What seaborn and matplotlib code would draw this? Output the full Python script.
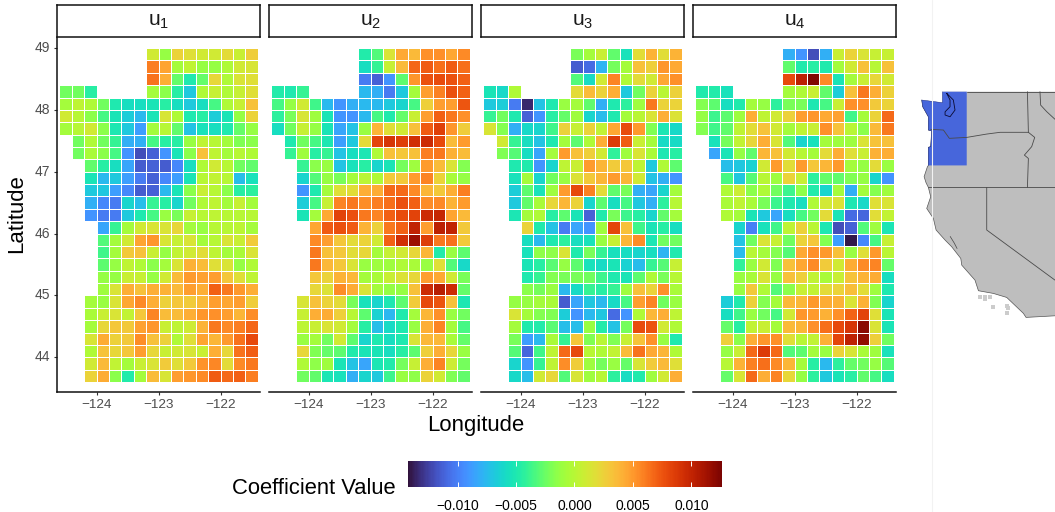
import numpy as np
import pandas as pd
import matplotlib
matplotlib.use("Agg")
import matplotlib.pyplot as plt
from matplotlib.lines import Line2D
import seaborn as sns

sns.set_theme(style="white")
plt.rcParams['font.family'] = ['Liberation Sans', 'DejaVu Sans']
plt.rcParams['mathtext.default'] = 'regular'

n = float('nan')
lons = [-124.5, -124.3, -124.1, -123.9, -123.7, -123.5, -123.3, -123.1,
        -122.9, -122.7, -122.5, -122.3, -122.1, -121.9, -121.7, -121.5]
lats = [48.9, 48.7, 48.5, 48.3, 48.1, 47.9, 47.7, 47.5, 47.3, 47.1, 46.9, 46.7, 46.5, 46.3,
        46.1, 45.9, 45.7, 45.5, 45.3, 45.1, 44.9, 44.7, 44.5, 44.3, 44.1, 43.9, 43.7]
start_col = [7, 7, 7, 0, 0, 0, 0, 1, 1, 2, 2, 2, 2, 2, 3, 3, 3, 3, 3, 3, 2, 2, 2, 2, 2, 2, 2]
panel_names = ['u_1', 'u_2', 'u_3', 'u_4']
lon_ticks = [-124, -123, -122]
lat_ticks = [49, 48, 47, 46, 45, 44]
cbar_ticks = [-0.010, -0.005, 0.000, 0.005, 0.010]
cbar_labels = ['\u22120.010', '\u22120.005', '0.000', '0.005', '0.010']
vmin, vmax = -0.01424, 0.01262

# coefficient values x 1000, left to right from the first cell of each row
u1 = [
 [1,-1.3,2.4,1.8,1,1,2,.7,2.7],
 [6,4.6,-.8,.3,-1.3,-1.3,-.3,1,1.3],
 [6.4,4.2,-2.6,-5,-2.6,2.2,-.3,1.4,1.8],
 [-2.3,-2.3,-4.5,n,n,n,n,-.8,-1.6,-4.5,-6.8,-.3,.6,-.3,.6,1.8],
 [-.8,.3,-.3,-2.3,-5,-5.7,-5.7,-5.3,-4.5,-5.7,-6.8,-5.7,-3.5,-.3,.6,3.3],
 [1,0,-1.6,-3.5,-5.3,-6.6,-7.6,-5.3,1.3,-.3,-5,-4.5,-6.6,-5.3,-1.3,2.4],
 [-.8,0,1,-1.6,-5.1,-6.8,-8.7,-.8,0,-2.7,-7.2,-5.5,-5.7,-5,-2.6,-1.3],
 [-2.3,-.3,-2.3,-4,-8,-8,-3.5,-4.5,-4.5,-1.2,.3,0,-.8,-1.9,-1.6],
 [-2.3,-.5,-1.6,-3.5,-9.2,-12,-11.2,-9.2,-5.3,-1.6,3.3,.3,-.8,0,-.3],
 [-2.7,-4.5,-5.7,-8.4,-11.5,-11.2,-11.5,-9.7,-5.7,-.3,1,0,-2.3,-2.7],
 [-5.3,-7.6,-6.8,-8.7,-10.2,-11.2,-9.7,-8.7,-5.3,0,.4,0,-7.4,-5.5],
 [-6.8,-7,-8.7,-9.7,-11.5,-11.2,-7.6,-5.3,-1.6,.7,0,-1.6,-4.5,-4.3],
 [-8,-9.7,-10.2,-6.2,-7.4,-4,-4.5,-6.2,-2.3,-.3,.3,-.8,.6,-.8],
 [-9.2,-10.2,-10.2,-6.8,-5,-3.5,-1.2,-2.1,.6,0,.3,0,0,0],
 [-8.4,-4,-.8,1,1.4,1.4,2.2,-.8,-1.2,0,0,.2,-.8],
 [-3.2,-.8,1,4.6,5.1,1.3,.6,1.4,-.8,0,1.4,.7,2.8],
 [-3.7,-.8,2.9,3.3,.7,-1.3,.4,1,1.9,.3,-.8,-.5,1.4],
 [-2.9,-1.3,.3,-.3,-1.6,-.8,1.4,4.1,3.5,1.8,1.4,-1.3,-.3],
 [-1.3,-1.3,.7,.6,-1.3,1,3.5,4.9,4.7,4.8,3,1.8,.3],
 [-1,1.4,4.2,3.3,4.2,4.1,3.7,4.8,4.2,7,6.2,5,4.2],
 [-.8,-1.2,1.4,4.5,5.5,4.2,2.5,3,2.8,3.7,4.8,4.5,4.8,2.7],
 [-.5,.7,1.4,.4,3,5.7,3.5,3.5,4.2,5.1,5.3,4.8,3.9,5.4],
 [-.8,2.2,3,2.9,4.7,5.1,.7,.3,.9,4,6.2,5.5,6,6.8],
 [1.3,4.3,2.5,2.9,5.4,3.3,2.5,-.3,1.8,4.6,3.9,5,6.4,8],
 [-.3,3.2,2.2,3,4.8,2.2,.7,1,1.3,.7,4.2,2.2,6.4,7.1],
 [1,3.7,.4,-.8,.7,1.4,2.8,1.8,2.9,5.2,5.6,2,5.5,6.2],
 [2.4,4.3,-1.6,-4.7,-.8,3.5,1.3,4.8,5.1,5.5,7.2,6.7,7,6],
]
u2 = [
 [-4.7,-3.2,1.4,4.4,3.7,5.3,5.3,4.5,5.5],
 [-5.7,-4,.6,3.7,6.8,7.2,6.5,7.2,6.5],
 [-10.2,-11.2,-9.2,-2.9,5.1,7.6,7.8,7.6,7],
 [-4.7,-5,-4,n,n,n,n,-7.6,-8,-10.2,-6.8,-.8,4.8,5.9,7.6,7],
 [-3.5,-1.3,1,-3.7,-7.6,-9.2,-8,-7.6,-7.6,-6.8,-6.2,-3.5,2.6,4.8,4.8,7.4],
 [-4.3,-2.1,1.3,-1,-5.3,-9.2,-9.2,-7.6,-3.5,-4.8,-2.6,.7,4.8,7,6.2,5.3],
 [-5.7,-2.3,.6,-1.3,-5.3,-8.4,-7.2,-1.2,3.9,1.8,1,3.3,7.2,8.5,5.1,2.7],
 [-5,-2.3,-3.5,-5.1,-8.7,-6.8,2,8.2,9,8.5,9.3,9.5,8,3.5,4.9],
 [-4,-1,-4.5,-4,-7.2,-5.7,-5.2,-.3,3.3,3,3.3,6,6.2,4.1,3.5],
 [-4,-1.6,-1.2,-7.2,-5.5,-4.5,-6.2,-5.3,-2.2,-1,4.9,3.5,1.4,-1.8],
 [-6.2,-3.2,-1.3,-2.1,-.8,.1,-.3,2.8,2.9,4.9,5.8,2.4,-.5,-1.3],
 [-9.2,-5,-.8,1.8,1.9,4.2,4.3,6.7,6.7,5.5,3.9,2.9,4.2,6],
 [-6.6,-3.5,.6,5.8,6.2,5.4,6,6.5,7.6,7,5.4,5.5,4,4.9],
 [-5.3,-.8,4.4,8.3,7.6,6.2,5.7,7,7.8,8.3,9.5,9.8,4.6,3.7],
 [4.5,7.2,7.6,7.2,4,2.5,6.2,7,10,4.8,10.3,10,2.9],
 [5.5,4.8,3,2,2.4,1,7,9.3,11.5,8.6,6.2,6.4,2.9],
 [6.2,3.3,3,1.9,2.2,-.8,.6,1,2.2,3.9,-4.7,-1.2,-2.9],
 [6.2,3.8,3,1.4,-1.2,-1,-1,-.3,-.5,-1.2,1.8,-3.2,-6],
 [3,2.4,4,3.8,-.8,-.5,.7,1.6,2.2,4.8,4.4,1,-2.1],
 [2.2,1.6,5.4,4.3,1.4,-.8,-1.3,-1.3,3.3,9.5,10.5,9.5,-2.6],
 [1.3,3.3,2.4,2,-2.1,-5.5,-6.2,-5.1,-2.9,2.8,8,7.5,3.3,-5.1],
 [.6,4.2,4.3,2.6,0,-2.9,-6.4,-7.7,-4.8,-.8,3.9,5.3,-1.2,-2.3],
 [.2,.7,1.4,1,-.8,-4.5,-7.4,-5.9,-5,-1.2,4.2,5.7,-.8,-3.5],
 [-1.2,-.8,-2.3,1,-2.9,-6.2,-5,-5.7,-5,1.4,3.8,3.8,-.5,-2.6],
 [2.2,-1.9,-2.6,-2.9,-4.8,-5.3,-5.3,-5.7,-4.5,-2.9,2.6,4.2,2.2,-1.2],
 [-.3,-1.5,-1,-5.3,-7.2,-8.4,-5.2,-4.8,-2.2,.6,4.2,5.7,.9,-2.2],
 [-2.3,-2.8,-5.2,-5.5,-8,-6.2,-6.8,-3.8,-1.2,-1.5,2.4,1,-1.9,-2.8],
]
u3 = [
 [-2.1,-.8,.7,-2.7,-5.5,1.9,4,1.9,4],
 [-11.5,-10.8,-7.8,-2.2,-.8,3.3,2.6,5.1,4.4],
 [-3.2,-5.9,1,5.7,-.3,2,1,4.5,5.3],
 [-5.3,-6,-.3,n,n,n,n,2,3.5,2.4,4.2,-6.8,-2.3,2.4,.1,2.5],
 [-6.8,-6.6,-10.2,-13.5,-7.2,-5,-1.2,-.8,-2.7,-8,-5,-4.3,-1,6.2,2.4,2.4],
 [-4,-2.3,-5,-11.2,-9.2,-4.5,-2.6,-1,-6.2,-7.5,-5,-.8,.1,1.4,4.2,1.6],
 [1.3,-1.8,-8,-6,-6.2,-3.7,2.5,.6,2.4,.4,4.5,7.8,5,-1.9,-5.2,-6],
 [1,-4,-5.7,-7.2,-5,-.8,-2.9,-.3,4.2,8.7,7.2,.7,-.8,-5.9,-5.9],
 [-1.9,-3.1,-5.8,-8.4,-.8,4.9,3.3,2.6,1,-4.2,-1,1.4,-.5,-5.1,-4.5],
 [-5,-4.8,-9.2,-6.2,.3,.7,4.9,3.9,2.8,3,.3,-6.8,-.3,-2.9],
 [-5.5,-.8,-6.2,-2.3,-1.2,1.6,2.9,3.9,4.9,3.9,1,-7.2,-8,-9.2],
 [-6.6,-2.9,-5.5,-1,4.9,8,5.9,2,-2.7,-2.1,-8,-8.4,-6.2,-.8],
 [-6.8,-2.7,-.5,2.2,3.9,2.4,-6.2,-2.9,-5.7,-3.5,-6.9,-8,-4.3,0],
 [-5.2,-.8,-.3,-4.5,-2.9,-5.3,-11.2,-4.8,-2.1,-3.8,-4.5,-6.2,-2.7,-.8],
 [2.4,-4.8,-7.2,-10.2,-8.4,-9.2,-1,8.2,3.3,-3.7,-5.3,-4.5,-5.7],
 [-5.7,-7.6,-5,-4.3,-5.7,-5.5,-1.2,.6,3.9,5.4,-5.2,-2.3,-2.3],
 [-5.5,-1.5,-1.5,1.4,-4.8,-2.1,-4,-5.6,-5.8,-6.2,-5.7,-7.8,-5],
 [-5.3,-4.5,-3,-1.3,-2.9,-5.5,-5.9,-5.3,-6.4,-7.5,-4,-3.1,.6],
 [-5,-4,-1.8,-2.1,-2.1,-2.3,-3.8,-5,-5.3,-2.9,-.3,-2.1,0],
 [-1.6,-2.2,-1.2,-7.6,-5.9,-4,-4.5,-4,-1,3.3,2.4,5.3,-.5],
 [-1.3,-1.3,-.8,-.5,-11.5,-8.4,-7,-7.6,-5.9,-3.5,4.8,5.7,-2.3,-1.2],
 [1.4,-.8,-1.8,-1.9,-6.6,-9.2,-7.6,-6.9,-10.8,-9.2,-.3,3.8,4.2,.3],
 [-.8,-4.8,-4.7,-3,-7.4,-7.4,-1.2,-4.7,-7.2,-2.2,7.8,7.5,1,-.3],
 [-2.1,-8.7,-7.6,-.5,-4,3,-1.9,.1,-1.9,.6,3.2,5.3,-1.2,-5],
 [-3.1,-11,-3.7,.3,6.7,8,0,-.3,.4,3.5,6.4,4.4,3.9,-.3],
 [-6.2,-9.2,-4,.3,5.4,2.7,-1,-2.2,-1.2,-2.6,1.3,2.8,3.7,1.8],
 [-6,-7.4,1,2.2,-3.2,1.3,-1,0,-4.3,-5.8,-4.8,-1,1,4.2],
]
u4 = [
 [-8,-9.2,-12,-8,.7,2.4,1.4,.6,.6],
 [-2.7,-4.9,-4.5,-4.8,-.8,1,3.3,0,3.3],
 [8,10.3,12.4,5.5,-5.3,-.8,.7,2.2,1],
 [-4.8,-4.7,-5.5,n,n,n,n,-.8,-.3,.7,-2.7,-6.6,3.3,6.2,4.2,2.5],
 [-1.8,-2.9,-5.7,-4.8,-.8,-1.3,-4.3,-2.1,-2.1,-5.1,-3.5,.7,5.3,5.3,2.9,2.4],
 [-1.3,-3.8,-2.9,-1,4.2,.3,1,2.5,4.8,5.1,4.4,4.7,-3.7,-.8,2.4,6.7],
 [-1.8,-3.7,-2.8,.3,1.9,3.2,1,-.8,.3,.7,5.3,3.2,.1,-1.6,3.7,6.2],
 [-5.5,-2.2,.4,2.2,4.2,1.3,-3.2,-6.2,-5.5,-.8,-1,-1,1.4,3.2,3.3],
 [-8.4,-5.3,-1.3,-2.8,3.9,3.3,1,0,-.8,2,4.2,1.8,.7,4.1,4.2],
 [-7.4,-7,-6.4,1,4.9,1.9,4.9,3,3.9,5,-.8,-1.3,2,-1.2],
 [-3.5,-6.9,-3.1,0,-1,2.4,.7,-4.3,-2.6,-2.7,-1.9,-1.3,-6.2,-9.2],
 [-.3,.8,-1.6,-.3,-2.3,-3.8,-1.5,-4.7,-6.2,-.8,-8,-.8,-1.8,-1],
 [-.5,.3,-.5,-2.1,-3.8,-5,-5.7,-.3,1.1,1.6,-5.1,-6,1.8,1.4],
 [-.3,-.8,-5.3,-6.8,-8.4,-5.7,-3.5,-2.3,2,-5.3,-10.8,-11,1.9,.4],
 [-6.2,-10,-5.5,-3.7,.3,2.5,.1,-5.1,-12,-11.2,-3.2,-1,-5.2],
 [-7.2,-2.3,1.4,.6,-2.3,2.4,3,-1.8,-8.7,-14,-9.7,-3.5,.6],
 [-7.5,0,-.8,-1.8,-3.1,4.4,5.3,5,3.3,-1.2,1.8,5,.1],
 [-4.2,-1.2,1,-1.9,3.3,4.5,5.5,2.8,1,4.3,5.5,5.8,-2.6],
 [-1.2,-.5,1.4,-1.3,3.3,2.6,.4,-.5,.7,3.2,4,4.3,-5.7],
 [-1.2,2.9,-.3,-3.2,-1.6,.7,.4,2,2.4,3.4,1.9,-1,-5],
 [-6.6,-4.8,2.5,-1.8,-.8,3.8,3.8,5,4.3,4.1,1.4,4.1,-1.9,-6.2],
 [-5.7,-3.7,-1.2,-2.3,-3.5,1,5.1,4.9,4.1,5.3,6.9,8.3,1.8,-5.3],
 [-2.6,-4.5,.4,.7,-.8,3.7,3.9,5.3,6.5,8,9,12,1.4,-5.3],
 [2.6,-1.6,4.2,5.1,5.3,1.8,.1,.4,4.1,8.2,10.2,11.8,2.6,-2.3],
 [-1.3,.7,6.7,8.7,6.7,-3.2,-2.9,-.8,-1.2,2.4,1.3,-.5,-1,-5.5],
 [0,4,5.9,6.5,5.5,3.9,-.8,-4.5,-7.6,-4.3,-2.6,-2.3,-1.3,-3.1],
 [-2.6,1.3,6.7,4.2,5.7,2.2,-1.3,-4.3,-6.8,-5.3,-4.5,-2.7,-3.5,-5.7],
]

# locator map, lon / lat
coast_lon = [-123.16,-123.16,-124.66,-124.59,-124.18,-124.18,-123.94,-124.01,-124.18,-124.18,
             -124.25,-124.49,-124.35,-124.18,-124.01,-124.30,-123.82,-123.62,-122.97,-122.49,
             -121.83,-121.76,-120.80,-120.55,-119.47,-118.50,-117.29,-117.10,-115.0]
coast_lat = [49.0,48.18,48.38,47.88,47.13,46.14,46.09,44.90,44.85,43.50,
             43.40,42.66,42.21,41.86,41.16,40.29,39.55,38.68,37.93,37.43,
             36.56,36.06,34.94,34.15,33.95,33.65,32.46,32.16,32.28]
border_lines = [
 ([-124.01,-123.09,-122.66,-121.4,-119.95,-118.98,-116.93], [46.19,46.14,45.52,45.59,45.84,45.97,45.97]),
 ([-117.0,-116.93], [49,45.97]),
 ([-116.93,-116.47,-116.69,-117.22,-116.93,-117.0], [45.97,45.59,44.90,44.27,44.02,41.86]),
 ([-124.18,-115.0], [41.86,41.86]),
 ([-119.95,-119.95,-115.0], [41.86,38.68,34.94]),
 ([-116.09,-116.04,-115.6,-115.0], [49,48.0,47.51,46.94]),
 ([-121.4,-115.0], [49,49]),
]
puget_lon = [-122.85,-122.37,-122.25,-122.61,-122.97,-122.97,-122.61,-122.61,-122.85]
puget_lat = [48.88,48.38,47.63,47.13,47.26,47.5,47.88,48.38,48.88]
sfbay_lon = [-122.6,-122.3,-122.1]
sfbay_lat = [38.2,37.7,37.3]
island_lon = [-120.43,-120.07,-119.71,-120.07,-119.52,-118.5,-118.38,-118.5]
island_lat = [33.7,33.7,33.7,33.5,32.9,33.0,32.83,32.46]
region_east, region_south = -121.4, 43.5

W, H = 1055, 512
fig = plt.figure(figsize=(W / 100, H / 100), dpi=100, facecolor='white')


def axes_px(x0, y0, x1, y1, **kw):
    return fig.add_axes([x0 / W, 1 - y1 / H, (x1 - x0) / W, (y1 - y0) / H], **kw)


def to_frame(rows):
    grid = []
    for s, r in zip(start_col, rows):
        assert s + len(r) == 16, (s, r)
        grid.append([n] * s + [v / 1000 for v in r])
    return pd.DataFrame(grid, index=lats, columns=lons)


cax = axes_px(408, 461, 722, 487)
step_lon = lons[1] - lons[0]
step_lat = lats[0] - lats[1]
for i, (name, rows) in enumerate(zip(panel_names, [u1, u2, u3, u4])):
    left = 56.7 + 212 * i
    ax = axes_px(left, 38, left + 203.5, 392.3)
    sns.heatmap(to_frame(rows), ax=ax, cmap='turbo', vmin=vmin, vmax=vmax,
                linewidths=0.6, linecolor='white',
                cbar=(i == 0), cbar_ax=cax if i == 0 else None,
                cbar_kws={'orientation': 'horizontal'} if i == 0 else None)
    ax.set_xlim(-0.21, 16.2)
    ax.set_ylim(27.83, -0.81)
    ax.set_xlabel('')
    ax.set_ylabel('')
    ax.set_xticks([(t - lons[0]) / step_lon + 0.5 for t in lon_ticks])
    ax.set_xticklabels(['\u2212%d' % abs(t) for t in lon_ticks], rotation=0, fontsize=9.7, color='#4d4d4d')
    if i == 0:
        ax.set_yticks([(lats[0] - t) / step_lat + 0.5 for t in lat_ticks])
        ax.set_yticklabels([str(t) for t in lat_ticks], rotation=0, fontsize=10, color='#4d4d4d')
    else:
        ax.set_yticks([])
    ax.tick_params(axis='both', length=2.5, width=0.8, color='#333333', pad=2.5,
                   bottom=True, left=(i == 0))
    for side, sp in ax.spines.items():
        sp.set_visible(side == 'bottom' or (side == 'left' and i == 0))
        sp.set_color('#111111')
        sp.set_linewidth(1.1)
    strip = axes_px(left, 5, left + 203.5, 36.7)
    strip.set_xticks([])
    strip.set_yticks([])
    strip.set_facecolor('white')
    for sp in strip.spines.values():
        sp.set_visible(True)
        sp.set_color('#111111')
        sp.set_linewidth(1.1)
    label, sub = name.split('_')
    strip.text(0.5, 0.47, '$%s_{%s}$' % (label, sub), transform=strip.transAxes, ha='center',
               va='center', fontsize=15, color='#1a1a1a')

cb = fig.axes[1].collections[0].colorbar
cb.set_ticks(cbar_ticks)
cb.set_ticklabels(cbar_labels)
cb.outline.set_visible(False)
cax.set_axisbelow(False)
cax.tick_params(axis='x', direction='in', color='white', length=3.5, width=0.7, top=True,
                bottom=True, labelbottom=True, labelsize=10, labelcolor='black', pad=8.5)

fig.text(476 / W, 1 - 426 / H, 'Longitude', ha='center', va='center', fontsize=15.9, color='black')
fig.text(17 / W, 1 - 214 / H, 'Latitude', ha='center', va='center', rotation=90, fontsize=15.9, color='black')
fig.text(396 / W, 1 - 489 / H, 'Coefficient Value', ha='right', va='center', fontsize=15.8, color='black')

# faint separator of the pasted map
fig.add_artist(Line2D([932 / W, 932 / W], [0, 1], color='#f2f2f2', lw=0.8))

m = axes_px(915, 85, 1055, 330)
m.set_xlim(-125.15, -115.0)
m.set_ylim(31.22, 49.5)
m.axis('off')
land_color, line_color = '#bebebe', '#4a4a4a'
m.fill(coast_lon + [-115.0], coast_lat + [49.0], color=land_color, lw=0)
m.plot(coast_lon[2:], coast_lat[2:], color='#555555', lw=0.5)
south_i = coast_lat.index(region_south)
m.fill([region_east] + coast_lon[:south_i + 1] + [region_east],
       [49.0] + coast_lat[:south_i + 1] + [region_south],
       color='#4766db', lw=0, zorder=2)
m.plot(coast_lon[:south_i + 1], coast_lat[:south_i + 1], color='#1b2a80', lw=0.3, zorder=3)
for bx, by in border_lines:
    m.plot(bx, by, color=line_color, lw=0.6, zorder=3)
m.plot(puget_lon, puget_lat, color='#0a0a30', lw=0.6, zorder=3)
m.plot(sfbay_lon, sfbay_lat, color='#444444', lw=0.5, zorder=3)
sns.scatterplot(x=island_lon, y=island_lat, ax=m, marker='s', s=9, color='#cccccc',
                linewidth=0, legend=False)

fig.savefig('out.png', dpi=100)
